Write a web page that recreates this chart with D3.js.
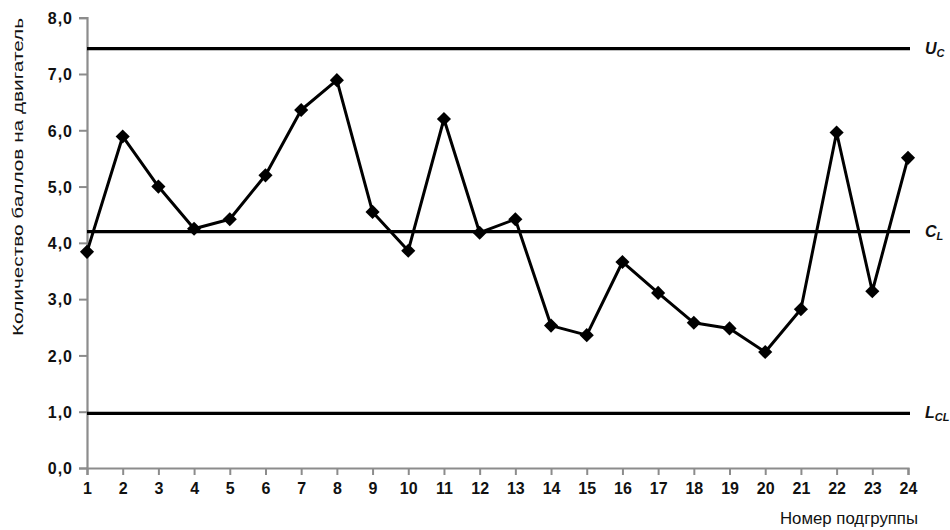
<!DOCTYPE html>
<html>
<head>
<meta charset="utf-8">
<script src="https://cdn.jsdelivr.net/npm/d3@7"></script>
<style>
  body { margin: 0; background: #fff; }
  text { font-family: "Liberation Sans", Arial, sans-serif; }
</style>
</head>
<body>
<svg id="main-chart"></svg>
<script>
// subgroup numbers and the value for each
const subgroups = d3.range(1, 25);
const scores = [3.84, 5.89, 5.0, 4.25, 4.42, 5.2, 6.36, 6.89, 4.55, 3.86, 6.2, 4.18,
                4.42, 2.53, 2.36, 3.66, 3.11, 2.58, 2.48, 2.06, 2.82, 5.96, 3.14, 5.51];
const yTicks = [0, 1, 2, 3, 4, 5, 6, 7, 8];
// control limits: name, subscript, value
const limitNames = ["U", "C", "L"];
const limitSubs = ["C", "L", "CL"];
const limitValues = [7.45, 4.2, 0.97];

function plotchart()
{
  const width = 950, height = 530;
  const left = 87, right = 908, top = 17.7, bottom = 468;

  const svg = d3.select("#main-chart")
      .attr("width", width)
      .attr("height", height);

  const x = d3.scaleLinear().domain([1, 24]).range([left, right]);
  const y = d3.scaleLinear().domain([0, 8]).range([bottom, top]);

  const fmt = d => d.toFixed(1).replace(".", ",");

  // axes
  const yAxis = svg.append("g")
      .attr("transform", `translate(${left},0)`)
      .call(d3.axisLeft(y).tickValues(yTicks).tickSize(8).tickPadding(6).tickFormat(fmt));
  const xAxis = svg.append("g")
      .attr("transform", `translate(0,${bottom})`)
      .call(d3.axisBottom(x).tickValues(subgroups).tickSize(7).tickPadding(8).tickFormat(d3.format("d")));

  [yAxis, xAxis].forEach(a => {
    a.select(".domain").attr("stroke", "#8c8c8c").attr("stroke-width", 2.2);
    a.selectAll(".tick line").attr("stroke", "#8c8c8c").attr("stroke-width", 2);
    a.selectAll(".tick text")
        .attr("fill", "#111")
        .attr("font-size", 16)
        .attr("font-weight", "bold");
  });
  yAxis.selectAll(".tick text").attr("dy", "0.36em").attr("letter-spacing", 1);

  // control limit lines
  limitValues.forEach((v, i) => {
    svg.append("line")
        .attr("x1", left).attr("x2", right + 2)
        .attr("y1", y(v)).attr("y2", y(v))
        .attr("stroke", "#000")
        .attr("stroke-width", 3.4);
    const t = svg.append("text")
        .attr("x", right + 17)
        .attr("y", y(v) + 5)
        .attr("font-size", 16)
        .attr("font-weight", "bold")
        .attr("font-style", "italic")
        .attr("fill", "#111");
    t.append("tspan").text(limitNames[i]);
    t.append("tspan")
        .attr("font-size", 11)
        .attr("dy", 3)
        .text(limitSubs[i]);
  });

  // data line and markers
  const line = d3.line()
      .x((d, i) => x(subgroups[i]))
      .y(d => y(d));

  svg.append("path")
      .datum(scores)
      .attr("fill", "none")
      .attr("stroke", "#000")
      .attr("stroke-width", 3)
      .attr("stroke-linejoin", "round")
      .attr("d", line);

  svg.append("g")
    .selectAll("path")
    .data(scores)
    .join("path")
      .attr("transform", (d, i) => `translate(${x(subgroups[i])},${y(d)}) rotate(45)`)
      .attr("d", d3.symbol().type(d3.symbolSquare).size(100))
      .attr("fill", "#000");

  // axis titles
  svg.append("text")
      .attr("transform", `translate(23,${(17 + 337) / 2}) rotate(-90)`)
      .attr("text-anchor", "middle")
      .attr("font-size", 15)
      .attr("textLength", 318)
      .attr("lengthAdjust", "spacingAndGlyphs")
      .attr("fill", "#111")
      .text("Количество баллов на двигатель");

  svg.append("text")
      .attr("x", 918)
      .attr("y", 524)
      .attr("text-anchor", "end")
      .attr("font-size", 16)
      .attr("textLength", 138)
      .attr("lengthAdjust", "spacingAndGlyphs")
      .attr("fill", "#111")
      .text("Номер подгруппы");
}

plotchart();
</script>
</body>
</html>
